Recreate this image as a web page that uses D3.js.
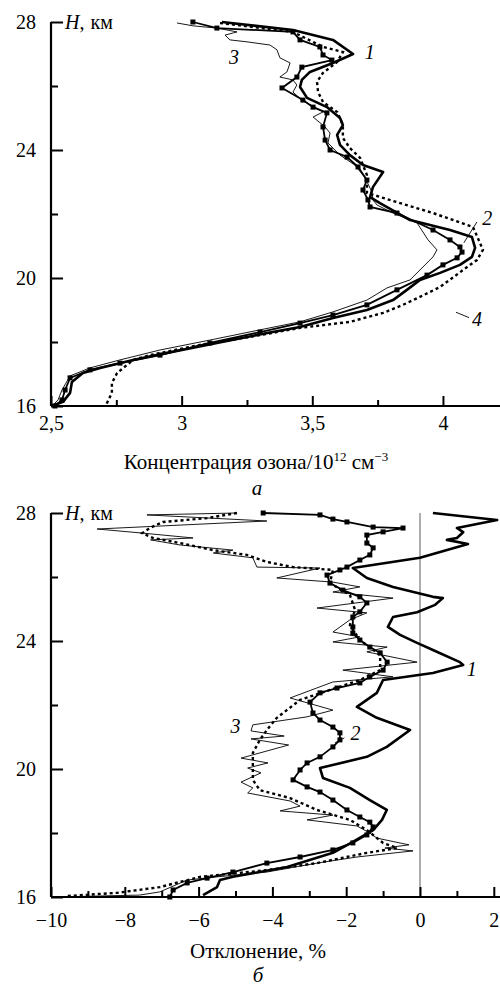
<!DOCTYPE html>
<html><head><meta charset="utf-8">
<script src="https://cdn.jsdelivr.net/npm/d3@7"></script>
<style>
body{margin:0;background:#fff;}
</style></head><body>
<script>
// ---------- DATA: panel a (ozone concentration, 10^12 cm^-3 vs H, km) ----------
const aTicks = [2.5, 3, 3.5, 4];
const aMinor = [2.75, 3.25, 3.75];
const hTicks = [16, 20, 24, 28];
const hMinor = [18, 22, 26];

const a1 = [[3.154,28.0],[3.426,27.75],[3.579,27.44],[3.656,27.0],[3.579,26.72],[3.491,26.44],[3.46,26.19],[3.453,25.97],[3.48,25.63],[3.556,25.34],[3.606,25.0],[3.617,24.78],[3.595,24.47],[3.606,24.16],[3.644,23.84],[3.694,23.53],[3.771,23.31],[3.732,22.84],[3.721,22.53],[3.759,22.34],[3.874,21.81],[4.027,21.5],[4.111,21.28],[4.123,20.94],[4.111,20.66],[4.065,20.41],[3.989,20.16],[3.912,19.94],[3.862,19.63],[3.809,19.31],[3.709,19.0],[3.579,18.75],[3.453,18.47],[3.327,18.28],[3.135,17.97],[2.944,17.66],[2.814,17.44],[2.688,17.19],[2.622,17.03],[2.58,16.75],[2.573,16.41],[2.546,16.13],[2.504,16.0]];
const a2 = [[3.043,28.0],[3.135,27.81],[3.426,27.69],[3.453,27.44],[3.529,27.22],[3.541,26.97],[3.575,26.81],[3.46,26.59],[3.441,26.28],[3.384,25.94],[3.464,25.56],[3.503,25.34],[3.556,25.16],[3.541,24.72],[3.549,24.31],[3.568,24.0],[3.633,23.78],[3.675,23.47],[3.709,23.06],[3.694,22.75],[3.713,22.44],[3.721,22.22],[3.824,22.03],[3.962,21.5],[4.027,21.19],[4.065,20.97],[4.073,20.81],[4.054,20.63],[4.0,20.41],[3.939,20.09],[3.824,19.63],[3.709,19.16],[3.579,18.84],[3.453,18.59],[3.3,18.31],[3.108,17.97],[2.917,17.59],[2.764,17.34],[2.649,17.13],[2.573,16.88],[2.554,16.5],[2.542,16.19],[2.515,16.0]];
const a3 = [[2.982,27.97],[3.043,27.88],[3.135,27.81],[3.212,27.69],[3.166,27.59],[3.185,27.44],[3.25,27.38],[3.338,27.28],[3.365,27.13],[3.376,26.88],[3.415,26.72],[3.403,26.44],[3.376,26.28],[3.426,26.19],[3.441,26.03],[3.426,25.81],[3.46,25.56],[3.541,25.19],[3.503,25.03],[3.549,24.72],[3.568,24.53],[3.56,24.22],[3.606,23.84],[3.663,23.53],[3.702,23.13],[3.728,22.69],[3.732,22.44],[3.748,22.28],[3.809,22.03],[3.901,21.72],[3.943,21.19],[3.977,20.88],[3.962,20.66],[3.912,20.25],[3.874,19.94],[3.786,19.69],[3.709,19.31],[3.579,18.94],[3.453,18.63],[3.3,18.38],[3.108,18.06],[2.917,17.75],[2.764,17.44],[2.649,17.19],[2.573,16.94],[2.542,16.5],[2.527,16.19],[2.504,16.0]];
const a4 = [[3.147,27.97],[3.426,27.69],[3.541,27.22],[3.617,27.06],[3.595,26.75],[3.541,26.41],[3.518,26.13],[3.522,25.81],[3.541,25.5],[3.595,25.19],[3.617,24.78],[3.617,24.38],[3.644,24.06],[3.683,23.75],[3.709,23.22],[3.709,22.66],[3.836,22.34],[3.962,22.03],[4.115,21.59],[4.153,20.88],[4.13,20.56],[4.077,20.25],[3.989,19.72],[3.912,19.41],[3.847,19.16],[3.771,18.91],[3.644,18.63],[3.453,18.44],[3.262,18.16],[3.07,17.91],[2.879,17.59],[2.814,17.44],[2.753,17.03],[2.733,16.72],[2.733,16.41],[2.714,16.09],[2.71,16.0]];

// ---------- DATA: panel b (deviation, % vs H, km) ----------
const bTicks = [-10, -8, -6, -4, -2, 0, 2];
const bMinor = [-9, -7, -5, -3, -1, 1];

const b1 = [[0.35,28.0],[2.09,27.78],[1.0,27.53],[1.17,27.4],[1.0,27.22],[0.73,27.16],[1.3,27.03],[0.0,26.6],[-1.82,26.28],[-1.44,25.97],[-0.73,25.69],[0.35,25.38],[0.62,25.34],[0.41,25.13],[-0.08,24.9],[-0.73,24.75],[-0.87,24.44],[-0.54,24.19],[-0.08,23.94],[0.35,23.72],[1.08,23.34],[1.17,23.25],[0.35,23.0],[-1.0,22.78],[-1.17,22.38],[-1.71,21.94],[-1.17,21.6],[-0.27,21.22],[-0.9,20.69],[-1.44,20.38],[-2.71,20.03],[-2.63,19.72],[-1.9,19.41],[-1.36,19.03],[-0.9,18.72],[-1.03,18.41],[-1.27,18.09],[-1.82,17.72],[-2.36,17.38],[-3.6,16.94],[-5.07,16.63],[-5.42,16.53],[-5.5,16.31],[-5.88,16.06]];
const b2 = [[-4.25,28.0],[-2.71,27.94],[-2.36,27.81],[-1.98,27.72],[-1.27,27.56],[-0.46,27.53],[-1.0,27.41],[-1.44,27.31],[-1.44,27.06],[-1.27,26.91],[-1.36,26.69],[-1.63,26.53],[-1.98,26.31],[-2.17,26.22],[-2.52,26.06],[-2.44,25.81],[-2.09,25.59],[-1.63,25.38],[-1.44,25.19],[-1.63,24.91],[-1.82,24.75],[-1.82,24.44],[-1.82,24.25],[-1.63,24.03],[-1.36,23.81],[-1.08,23.63],[-0.89,23.34],[-1.0,23.09],[-1.36,22.88],[-1.63,22.69],[-2.25,22.53],[-2.71,22.38],[-2.98,22.09],[-2.9,21.75],[-2.71,21.53],[-2.36,21.31],[-2.17,21.13],[-2.17,20.91],[-2.36,20.69],[-2.71,20.38],[-3.06,20.19],[-3.25,19.97],[-3.44,19.66],[-3.06,19.44],[-2.71,19.28],[-2.36,19.03],[-1.98,18.72],[-1.63,18.5],[-1.36,18.34],[-1.27,18.19],[-1.44,17.94],[-1.82,17.69],[-2.36,17.47],[-3.25,17.25],[-4.15,17.06],[-5.07,16.78],[-5.77,16.59],[-6.31,16.44],[-6.69,16.22],[-6.78,16.0]];
const b3 = [[-4.96,28.0],[-7.4,27.94],[-4.15,27.75],[-8.75,27.5],[-7.5,27.37],[-6.15,27.22],[-7.3,27.16],[-6.5,27.0],[-5.07,26.84],[-5.6,26.75],[-4.53,26.6],[-4.42,26.31],[-2.71,26.28],[-3.88,25.97],[-2.36,25.84],[-1.63,25.69],[-2.36,25.53],[-0.73,25.34],[-2.79,25.03],[-1.44,24.88],[-1.9,24.66],[-2.36,24.28],[-1.63,24.13],[-2.36,23.97],[-0.89,23.81],[-1.44,23.66],[-0.08,23.34],[-2.09,23.09],[-0.73,22.88],[-2.36,22.72],[-3.52,22.22],[-2.36,21.84],[-3.06,21.63],[-4.53,21.38],[-4.58,21.19],[-3.68,21.03],[-4.58,20.94],[-3.56,20.75],[-4.85,20.34],[-4.12,20.19],[-4.67,20.03],[-4.31,19.88],[-4.85,19.59],[-4.53,19.41],[-4.67,19.25],[-3.52,19.0],[-3.25,18.84],[-3.79,18.69],[-2.36,18.56],[-3.06,18.41],[-1.71,18.22],[-1.36,18.0],[-1.17,17.84],[-0.3,17.63],[-0.95,17.53],[-0.19,17.44],[-1.71,17.25],[-2.79,17.06],[-4.15,16.78],[-5.5,16.63],[-6.31,16.53],[-7.05,16.16],[-7.6,16.06],[-9.9,16.0]];
const b4 = [[-4.96,28.0],[-5.77,27.84],[-6.96,27.72],[-7.32,27.53],[-7.53,27.37],[-7.24,27.22],[-6.5,27.06],[-5.61,26.84],[-4.69,26.69],[-4.15,26.47],[-3.44,26.31],[-2.36,26.22],[-2.44,25.81],[-1.9,25.44],[-1.76,24.97],[-1.9,24.5],[-1.63,24.03],[-1.08,23.56],[-1.08,23.09],[-1.63,22.78],[-2.44,22.47],[-3.25,22.16],[-3.88,21.6],[-4.15,21.22],[-4.34,20.91],[-4.53,20.5],[-4.53,20.06],[-4.53,19.66],[-4.34,19.34],[-3.52,19.09],[-2.79,18.72],[-1.9,18.41],[-1.44,18.09],[-1.0,17.69],[-0.62,17.53],[-1.44,17.38],[-2.79,17.06],[-4.15,16.84],[-5.96,16.63],[-7.05,16.31],[-8.21,16.13],[-9.57,16.03]];

// ---------- DRAWING ----------
const FONT = '"Liberation Serif"';
const W = 500, H = 986;
const svg = d3.select("body").append("svg").attr("width", W).attr("height", H);
const fmt = v => String(v).replace(".", ",");

function panel(cfg) {
  const x = d3.scaleLinear().domain(cfg.xDomain).range([51, 500]);
  const y = d3.scaleLinear().domain([16, 28]).range(cfg.yRange);
  const g = svg.append("g");

  if (cfg.zero) {
    g.append("line").attr("x1", x(0)).attr("x2", x(0)).attr("y1", y(16)).attr("y2", y(28))
      .attr("stroke", "#777").attr("stroke-width", 1.2);
  }

  const line = d3.line().x(d => x(d[0])).y(d => y(d[1]));
  const series = cfg.series;
  g.append("path").datum(series[2]).attr("d", line).attr("fill", "none")
    .attr("stroke", "#000").attr("stroke-width", 0.9);
  g.append("path").datum(series[3]).attr("d", line).attr("fill", "none")
    .attr("stroke", "#000").attr("stroke-width", 2.4).attr("stroke-dasharray", "3,3");
  g.append("path").datum(series[1]).attr("d", line).attr("fill", "none")
    .attr("stroke", "#000").attr("stroke-width", 1.8);
  g.selectAll("rect.m").data(series[1]).enter().append("rect")
    .attr("x", d => x(d[0]) - 2.5).attr("y", d => y(d[1]) - 2.5)
    .attr("width", 5).attr("height", 5).attr("fill", "#000");
  g.append("path").datum(series[0]).attr("d", line).attr("fill", "none")
    .attr("stroke", "#000").attr("stroke-width", 2.6).attr("stroke-linejoin", "round");

  const xAxis = d3.axisBottom(x).tickValues(cfg.xTicks).tickSize(-10).tickPadding(cfg.xPad)
    .tickFormat(cfg.xFmt);
  const gx = g.append("g").attr("transform", `translate(0,${y(16)})`).call(xAxis);
  gx.select(".domain").attr("stroke-width", 2.2).attr("d", `M51,0H500`);
  gx.selectAll(".tick line").attr("stroke-width", 2);
  gx.selectAll("text").attr("fill", "#000").style("font-family", FONT).style("font-size", "20px");
  const xm = d3.axisBottom(x).tickValues(cfg.xMinor).tickSize(-6).tickFormat("");
  const gxm = g.append("g").attr("transform", `translate(0,${y(16)})`).call(xm);
  gxm.select(".domain").remove();
  gxm.selectAll(".tick line").attr("stroke-width", 2);

  const yAxis = d3.axisLeft(y).tickValues(hTicks).tickSize(-12).tickPadding(15);
  const gy = g.append("g").attr("transform", `translate(51,0)`).call(yAxis);
  gy.select(".domain").attr("stroke-width", 2.2).attr("d", `M0,${y(28)}V${y(16)}`);
  gy.selectAll(".tick line").attr("stroke-width", 2);
  gy.selectAll("text").attr("fill", "#000").style("font-family", FONT).style("font-size", "20px");
  const ym = d3.axisLeft(y).tickValues(hMinor).tickSize(-7).tickFormat("");
  const gym = g.append("g").attr("transform", `translate(51,0)`).call(ym);
  gym.select(".domain").remove();
  gym.selectAll(".tick line").attr("stroke-width", 2);

  const ht = g.append("text").attr("x", 65).attr("y", y(28) + 7)
    .style("font-family", FONT).style("font-size", "20px");
  ht.append("tspan").attr("font-style", "italic").text("H");
  ht.append("tspan").text(",");
  ht.append("tspan").attr("dx", 6).text("км");

  cfg.labels.forEach(l => {
    g.append("text").attr("x", x(l[0])).attr("y", y(l[1]))
      .style("font-family", FONT).style("font-size", "20px")
      .attr("font-style", "italic").attr("text-anchor", "middle").text(l[2]);
  });
  cfg.leaders.forEach(l => {
    g.append("line").attr("x1", x(l[0])).attr("y1", y(l[1])).attr("x2", x(l[2])).attr("y2", y(l[3]))
      .attr("stroke", "#000").attr("stroke-width", 0.9);
  });
  return {x, y, g};
}

panel({
  xDomain: [2.5, 2.5 + 449 / 261.3], yRange: [406, 22], xTicks: aTicks, xMinor: aMinor,
  xFmt: fmt, xPad: 10, series: [a1, a2, a3, a4],
  labels: [[3.72, 26.85, "1"], [4.17, 21.65, "2"], [3.2, 26.7, "3"], [4.13, 18.5, "4"]],
  leaders: [[4.13, 21.75, 4.08, 21.1], [4.1, 18.76, 4.05, 18.93]]
});
svg.append("text").attr("x", 256).attr("y", 469).attr("text-anchor", "middle")
  .style("font-family", FONT).style("font-size", "21px")
  .call(t => {
    t.append("tspan").text("Концентрация озона/10");
    t.append("tspan").style("font-size", "13px").attr("dy", -8).text("12");
    t.append("tspan").attr("dy", 8).text(" см");
    t.append("tspan").style("font-size", "13px").attr("dy", -8).text("−3");
  });
svg.append("text").attr("x", 257).attr("y", 495).attr("text-anchor", "middle")
  .style("font-family", FONT).style("font-size", "21px")
  .attr("font-style", "italic").text("а");

panel({
  xDomain: [-10, -10 + 449 / 36.9], yRange: [897, 513], xTicks: bTicks, xMinor: bMinor,
  xFmt: d3.format("d"), xPad: 16, series: [b1, b2, b3, b4], zero: true,
  labels: [[1.4, 22.9, "1"], [-1.75, 20.9, "2"], [-5.0, 21.12, "3"]],
  leaders: [[-2.05, 20.97, -2.3, 20.82]]
});
svg.append("text").attr("x", 258).attr("y", 958).attr("text-anchor", "middle")
  .style("font-family", FONT).style("font-size", "21px")
  .text("Отклонение, %");
svg.append("text").attr("x", 258).attr("y", 982).attr("text-anchor", "middle")
  .style("font-family", FONT).style("font-size", "21px")
  .attr("font-style", "italic").text("б");
</script>
</body></html>
